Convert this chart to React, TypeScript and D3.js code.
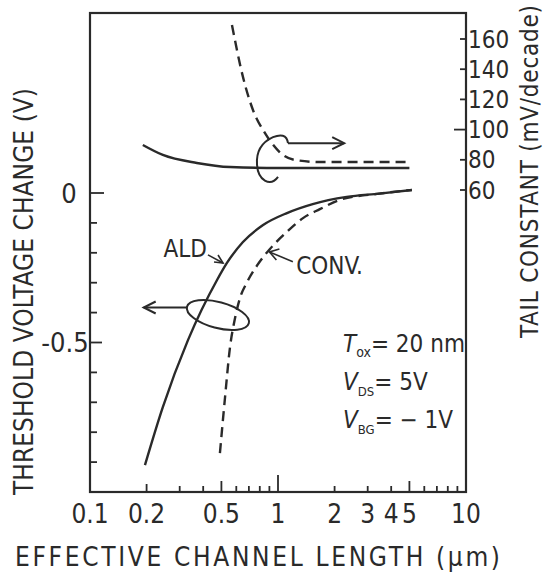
import React from 'react';
import * as d3 from 'd3';

// channel length (um) vs threshold voltage change (V)
const aldLength = [0.196, 0.244, 0.332, 0.474, 0.535, 0.651, 0.833, 1.116, 1.53, 2.32, 3.46, 5.15];
const aldVth = [-0.91, -0.716, -0.492, -0.291, -0.234, -0.164, -0.107, -0.067, -0.037, -0.013, -0.002, 0.01];
const convLength = [0.491, 0.523, 0.555, 0.591, 0.628, 0.685, 0.771, 0.906, 1.116, 1.358, 1.67, 2.13, 3.46, 5.15];
const convVth = [-0.87, -0.682, -0.518, -0.418, -0.351, -0.298, -0.244, -0.187, -0.13, -0.084, -0.054, -0.023, -0.002, 0.01];

// channel length vs tail constant (mV/decade)
const aldTcLength = [0.191, 0.244, 0.37, 0.556, 1.02, 5.0];
const aldTc = [89.8, 83.2, 77.9, 75.2, 74.6, 74.6];
const convTcLength = [0.569, 0.651, 0.736, 0.853, 1.064, 1.23, 1.67, 5.0];
const convTc = [169.3, 134.9, 113, 97.7, 83.2, 79.9, 78.5, 78.5];

const xTickLabels = [0.1, 0.2, 0.5, 1, 2, 3, 4, 5, 10];
const xTickMarks = [0.2, 0.3, 0.4, 0.5, 0.6, 0.7, 0.8, 0.9, 1, 2, 3, 4, 5, 6, 7, 8, 9];
const leftTicks = [0, -0.1, -0.2, -0.3, -0.4, -0.5, -0.6, -0.7, -0.8, -0.9];
const leftLabels = ['0', '-0.5'];
const leftLabelValues = [0, -0.5];
const rightTicks = [60, 80, 100, 120, 140, 160];

const W = 543;
const H = 572;
const ink = '#2a2a2a';
const font = "'DejaVu Sans Condensed', 'DejaVu Sans', sans-serif";

export default function App() {
  const left = 90, right = 466, top = 13, bottom = 492;
  const x = d3.scaleLog().domain([0.1, 10]).range([left, right]);
  const yL = d3.scaleLinear().domain([-1, 0]).range([bottom, 193]);
  const yR = d3.scaleLinear().domain([60, 160]).range([190, 39]);

  const mk = (xs: number[], ys: number[], sy: any) =>
    d3.line<number>().x((d, i) => x(xs[i])).y((d) => sy(d)).curve(d3.curveMonotoneX)(ys) as string;

  const xLen = (v: number) => (v === 1 ? 17 : v === 0.5 || v === 5 ? 11 : v === 0.2 ? 8 : 6);

  // annotation anchors
  const loopCx = x(0.885), loopCy = yR(80);
  const ellCx = x(0.479), ellCy = yL(-0.408);
  const arrR0 = x(1.13), arrR1 = x(2.25), arrRY = yR(91);
  const arrL0 = x(0.33), arrL1 = x(0.193), arrLY = yL(-0.383);
  const aldTip = [x(0.51), yL(-0.234)];
  const convTip = [x(0.9), yL(-0.197)];

  return (
    <svg width={W} height={H} style={{ position: 'absolute', left: 0, top: 0, background: '#fff' }} fontFamily={font}>
      <rect width={W} height={H} fill="#fff" />
      {/* frame */}
      <rect x={left} y={top} width={right - left} height={bottom - top} fill="none" stroke={ink} strokeWidth={2.2} />

      {/* x ticks */}
      {xTickMarks.map((v) => (
        <line key={'xt' + v} x1={x(v)} x2={x(v)} y1={bottom} y2={bottom - xLen(v)} stroke={ink} strokeWidth={1.8} />
      ))}
      {xTickLabels.map((v) => (
        <text key={'xl' + v} x={x(v)} y={523} textAnchor="middle" fontSize={26} fill={ink}>{String(v)}</text>
      ))}

      {/* left ticks */}
      {leftTicks.map((v) => (
        <line key={'lt' + v} x1={left} x2={left + (v === 0 ? 14 : v === -0.5 ? 12 : 7)} y1={yL(v)} y2={yL(v)} stroke={ink} strokeWidth={1.8} />
      ))}
      {leftLabels.map((s, i) => (
        <text key={'ll' + s} x={i === 0 ? 69 : 65} y={yL(leftLabelValues[i])} dy="0.36em" textAnchor="middle" fontSize={27} fill={ink}>{s}</text>
      ))}

      {/* right ticks */}
      {rightTicks.map((v) => (
        <line key={'rt' + v} x1={right} x2={right - (v === 100 ? 12 : 6)} y1={yR(v)} y2={yR(v)} stroke={ink} strokeWidth={1.8} />
      ))}
      {rightTicks.map((v) => (
        <text key={'rl' + v} x={right + 2} y={yR(v)} dy="0.36em" fontSize={24} fill={ink}>{v}</text>
      ))}

      {/* curves */}
      <path d={mk(aldLength, aldVth, yL)} fill="none" stroke={ink} strokeWidth={2.4} />
      <path d={mk(convLength, convVth, yL)} fill="none" stroke={ink} strokeWidth={2.4} strokeDasharray="10,6" />
      <path d={mk(aldTcLength, aldTc, yR)} fill="none" stroke={ink} strokeWidth={2.4} />
      <path d={mk(convTcLength, convTc, yR)} fill="none" stroke={ink} strokeWidth={2.4} strokeDasharray="10,6" />

      {/* tail-constant loop and arrow */}
      <path
        d={`M${arrR0},${arrRY} C${arrR0 - 1},${arrRY - 9} ${loopCx + 12},${arrRY - 9} ${loopCx + 5},${arrRY - 6} C${loopCx - 6},${arrRY - 1} ${loopCx - 12},${loopCy - 8} ${loopCx - 11},${loopCy + 5} C${loopCx - 10},${loopCy + 20} ${loopCx + 2},${loopCy + 28} ${loopCx + 10},${loopCy + 17}`}
        fill="none" stroke={ink} strokeWidth={2} />
      <line x1={arrR0} x2={arrR1} y1={arrRY} y2={arrRY} stroke={ink} strokeWidth={2} />
      <path d={`M${arrR1 - 12},${arrRY - 6} L${arrR1},${arrRY} L${arrR1 - 12},${arrRY + 6}`} fill="none" stroke={ink} strokeWidth={2} />

      {/* threshold loop and arrow */}
      <ellipse cx={ellCx} cy={ellCy} rx={32} ry={13} transform={`rotate(15 ${ellCx} ${ellCy})`} fill="none" stroke={ink} strokeWidth={2} />
      <line x1={arrL0} x2={arrL1} y1={arrLY} y2={arrLY} stroke={ink} strokeWidth={2} />
      <path d={`M${arrL1 + 12},${arrLY - 6} L${arrL1},${arrLY} L${arrL1 + 12},${arrLY + 6}`} fill="none" stroke={ink} strokeWidth={2} />

      {/* ALD label */}
      <text x={x(0.419)} y={yL(-0.214)} textAnchor="end" fontSize={24} fill={ink}>ALD</text>
      <line x1={x(0.424)} y1={yL(-0.207)} x2={aldTip[0]} y2={aldTip[1]} stroke={ink} strokeWidth={1.6} />
      <path d={`M${aldTip[0] - 9},${aldTip[1] - 1} L${aldTip[0]},${aldTip[1]} L${aldTip[0] - 5},${aldTip[1] - 8}`} fill="none" stroke={ink} strokeWidth={1.6} />

      {/* CONV label */}
      <text x={x(1.25)} y={yL(-0.27)} fontSize={24} fill={ink}>CONV.</text>
      <line x1={x(1.2)} y1={yL(-0.23)} x2={convTip[0]} y2={convTip[1]} stroke={ink} strokeWidth={1.6} />
      <path d={`M${convTip[0] + 10},${convTip[1] - 3} L${convTip[0]},${convTip[1]} L${convTip[0] + 7},${convTip[1] + 8}`} fill="none" stroke={ink} strokeWidth={1.6} />

      {/* conditions */}
      <g fontSize={24} fill={ink}>
        <text x={343} y={352}>
          <tspan fontStyle="italic">T</tspan><tspan fontSize={14} dy={5}>ox</tspan><tspan dy={-5}>= 20 nm</tspan>
        </text>
        <text x={343} y={390}>
          <tspan fontStyle="italic">V</tspan><tspan fontSize={13} dy={6}>DS</tspan><tspan dy={-6}>= 5V</tspan>
        </text>
        <text x={343} y={428}>
          <tspan fontStyle="italic">V</tspan><tspan fontSize={13} dy={6}>BG</tspan><tspan dy={-6}>= − 1V</tspan>
        </text>
      </g>

      {/* axis titles */}
      <text x={15} y={566} fontSize={26} fill={ink} textLength={485} lengthAdjust="spacing">EFFECTIVE CHANNEL LENGTH (μm)</text>
      <text transform="translate(33,495) rotate(-90)" fontSize={26} fill={ink} textLength={407} lengthAdjust="spacing">THRESHOLD VOLTAGE CHANGE (V)</text>
      <text transform="translate(538,338) rotate(-90)" fontSize={24} fill={ink} textLength={333} lengthAdjust="spacing">TAIL CONSTANT (mV/decade)</text>
    </svg>
  );
}
